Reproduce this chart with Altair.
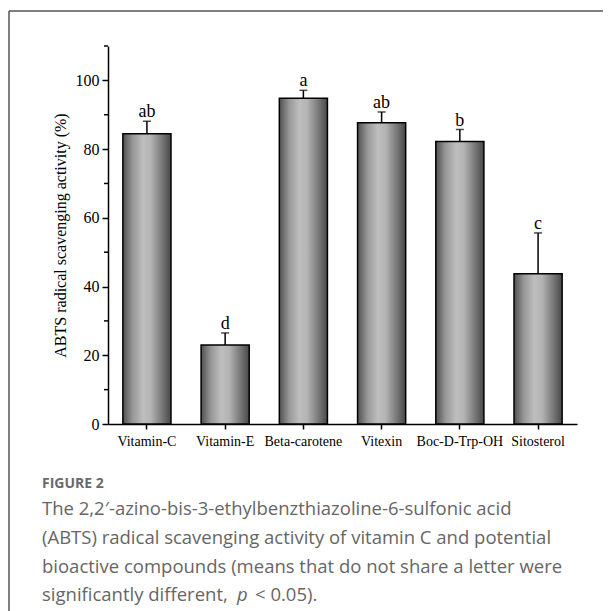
import altair as alt
import pandas as pd

categories = ["Vitamin-C", "Vitamin-E", "Beta-carotene", "Vitexin", "Boc-D-Trp-OH", "Sitosterol"]
means = [84.5, 23.0, 94.8, 87.7, 82.2, 43.7]
errors = [3.6, 3.5, 2.3, 3.1, 3.5, 11.9]
letters = ["ab", "d", "a", "ab", "b", "c"]
y_ticks = [0, 20, 40, 60, 80, 100]
minor_ticks = [10, 30, 50, 70, 90, 110]
y_title = "ABTS radical scavenging activity (%)"
fig_label = "FIGURE 2"
caption_lines = [
    "The 2,2\u2032-azino-bis-3-ethylbenzthiazoline-6-sulfonic acid",
    "(ABTS) radical scavenging activity of vitamin C and potential",
    "bioactive compounds (means that do not share a letter were",
]
last_line = ["significantly different, ", "p", "< 0.05)."]

df = pd.DataFrame({
    "cat": categories,
    "mean": means,
    "top": [m + e for m, e in zip(means, errors)],
    "letter": letters,
})
minor_df = pd.DataFrame({"v": minor_ticks})

SERIF = "Liberation Serif"
SANS = "Open Sans"
CAP_COLOR = "#666666"

x_enc = alt.X(
    "cat:N",
    sort=categories,
    scale=alt.Scale(paddingInner=0.385, paddingOuter=0.19),
    axis=alt.Axis(
        title=None, labelAngle=0, labelFont=SERIF, labelFontSize=14,
        labelColor="black", tickSize=5, tickColor="black", tickWidth=1.5,
        domainColor="black", domainWidth=1.5, labelPadding=5, grid=False,
    ),
)
y_scale = alt.Scale(domain=[0, 110], nice=False)
y_axis = alt.Axis(
    values=y_ticks, title=y_title, grid=False,
    labelFont=SERIF, labelFontSize=16, labelColor="black", labelPadding=3,
    tickSize=6, tickColor="black", tickWidth=1.5,
    domainColor="black", domainWidth=1.5,
    titleFont=SERIF, titleFontSize=16, titleFontWeight="normal", titleColor="black",
    titleX=-43, titleY=189, titleAngle=270, titleAlign="center", titleBaseline="alphabetic",
)

grad = alt.LinearGradient(
    gradient="linear",
    stops=[
        alt.GradientStop(color="#505050", offset=0),
        alt.GradientStop(color="#969696", offset=0.2),
        alt.GradientStop(color="#bebebe", offset=0.42),
        alt.GradientStop(color="#b4b4b4", offset=0.58),
        alt.GradientStop(color="#7c7c7c", offset=0.8),
        alt.GradientStop(color="#484848", offset=1),
    ],
    x1=0, x2=1, y1=0, y2=0,
)

base = alt.Chart(df)
bars = base.mark_bar(fill=grad, stroke="black", strokeWidth=1.5).encode(
    x=x_enc, y=alt.Y("mean:Q", scale=y_scale, axis=y_axis)
)
err = base.mark_rule(color="black", strokeWidth=1.5).encode(
    x=x_enc, y=alt.Y("mean:Q", scale=y_scale, axis=y_axis), y2="top:Q"
)
cap = base.mark_tick(color="black", size=8, thickness=1.5).encode(
    x=x_enc, y=alt.Y("top:Q", scale=y_scale, axis=y_axis)
)
lab = base.mark_text(font=SERIF, fontSize=18, baseline="alphabetic", dy=-4, color="black").encode(
    x=x_enc, y=alt.Y("top:Q", scale=y_scale, axis=y_axis), text="letter:N"
)
minor = alt.Chart(minor_df).mark_rule(color="black", strokeWidth=1.5).encode(
    y=alt.Y("v:Q", scale=y_scale, axis=y_axis), x=alt.value(-4), x2=alt.value(0)
)

one = pd.DataFrame({"a": [0]})
frame_left = alt.Chart(one).mark_rule(color="#555555", strokeWidth=1.5).encode(
    x=alt.value(-99), y=alt.value(-35), y2=alt.value(620)
)
frame_top = alt.Chart(one).mark_rule(color="#555555", strokeWidth=1.5).encode(
    x=alt.value(-99), x2=alt.value(520), y=alt.value(-35)
)

layers = [bars, err, cap, lab, minor, frame_left, frame_top]

layers.append(
    alt.Chart(one).mark_text(font=SANS, fontSize=14, fontWeight="bold", color="#6a6a6a",
                             align="left", baseline="alphabetic").encode(
        x=alt.value(-66), y=alt.value(442), text=alt.value(fig_label))
)
LINE0 = 469
LH = 28.8
for i, line in enumerate(caption_lines):
    layers.append(
        alt.Chart(one).mark_text(font=SANS, fontSize=18.5, color=CAP_COLOR,
                                 align="left", baseline="alphabetic").encode(
            x=alt.value(-66), y=alt.value(LINE0 + LH * i), text=alt.value(line))
    )
xs = [-66, 129, 147]
for j, piece in enumerate(last_line):
    layers.append(
        alt.Chart(one).mark_text(font=SANS, fontSize=18.5, color=CAP_COLOR,
                                 fontStyle="italic" if piece == "p" else "normal",
                                 align="left", baseline="alphabetic").encode(
            x=alt.value(xs[j]), y=alt.value(LINE0 + LH * 3), text=alt.value(piece))
    )

chart = alt.layer(*layers).properties(
    width=469, height=378,
    padding={"left": 100, "top": 38, "right": 26, "bottom": 188},
    autosize=alt.AutoSizeParams(type="none"),
).configure_view(stroke=None)

chart.save("out.html", embed_options={"renderer": "svg", "actions": False})
